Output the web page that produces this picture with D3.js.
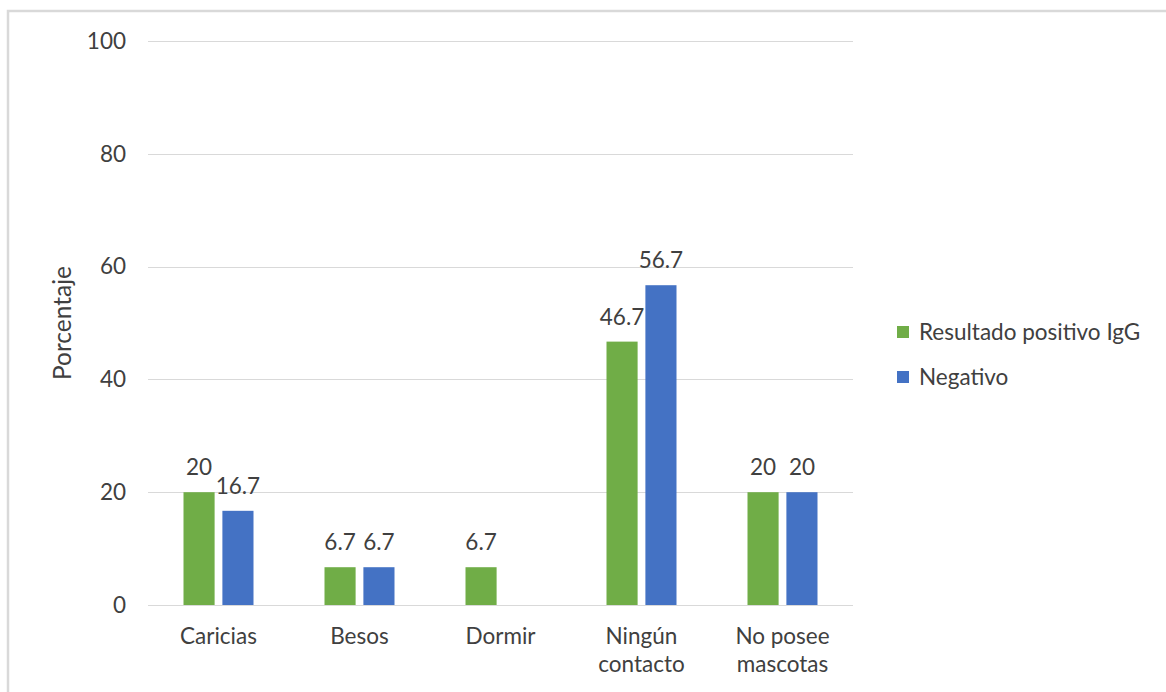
<!DOCTYPE html>
<html>
<head>
<meta charset="utf-8">
<script src="https://cdn.jsdelivr.net/npm/d3@7/dist/d3.min.js"></script>
<style>
  html, body { margin: 0; padding: 0; background: #fff; }
  svg { display: block; }
  text { font-family: Lato, "Open Sans", sans-serif; fill: #404040; }
</style>
</head>
<body>
<svg id="chart" width="1166" height="692"></svg>
<script>
// Exposure categories (multi-line labels split on "\n")
const categories = ["Caricias", "Besos", "Dormir", "Ningún\ncontacto", "No posee\nmascotas"];
const seriesNames = ["Resultado positivo IgG", "Negativo"];
const positivoIgG = [20, 6.7, 6.7, 46.7, 20];
const negativo = [16.7, 6.7, null, 56.7, 20];
const yTicks = [0, 20, 40, 60, 80, 100];
const colors = ["#70ad47", "#4472c4"];

const svg = d3.select("#chart");
const W = 1166, H = 692;
const FS = 22.5;

// Outer chart frame
svg.append("rect")
  .attr("x", 8).attr("y", 11)
  .attr("width", W + 10).attr("height", H + 10)
  .attr("fill", "none").attr("stroke", "#d9d9d9").attr("stroke-width", 2.5);

const plot = { left: 148, right: 853, top: 41, bottom: 605 };

const x = d3.scaleBand().domain(categories).range([plot.left, plot.right]).paddingInner(0).paddingOuter(0);
const xInner = d3.scaleBand().domain(seriesNames).range([35.5, x.bandwidth() - 35.5]).paddingInner(0.2).paddingOuter(0);
const y = d3.scaleLinear().domain([0, 100]).range([plot.bottom, plot.top]);

// Gridlines
svg.append("g").selectAll("line").data(yTicks).join("line")
  .attr("x1", plot.left).attr("x2", plot.right)
  .attr("y1", d => Math.round(y(d)) + 0.5).attr("y2", d => Math.round(y(d)) + 0.5)
  .attr("stroke", "#d9d9d9").attr("stroke-width", 1);

// Y axis labels
const yAxis = d3.axisLeft(y).tickValues(yTicks).tickSize(0).tickPadding(0);
const gy = svg.append("g").attr("transform", `translate(${plot.left - 22},0)`).call(yAxis);
gy.select(".domain").remove();
gy.selectAll("text").attr("font-size", FS).attr("fill", "#404040").attr("font-family", "Lato, sans-serif");

// Y axis title
svg.append("text")
  .attr("transform", `translate(71, ${(plot.top + plot.bottom) / 2}) rotate(-90)`)
  .attr("text-anchor", "middle")
  .attr("font-size", 24.5)
  .text("Porcentaje");

// Bars
const seriesData = [positivoIgG, negativo];
const barData = [];
categories.forEach((c, i) => {
  seriesNames.forEach((s, j) => {
    const v = seriesData[j][i];
    if (v !== null) barData.push({ cat: c, series: s, value: v, color: colors[j] });
  });
});

const gBars = svg.append("g");
gBars.selectAll("rect").data(barData).join("rect")
  .attr("x", d => x(d.cat) + xInner(d.series))
  .attr("y", d => y(d.value))
  .attr("width", xInner.bandwidth())
  .attr("height", d => y(0) - y(d.value))
  .attr("fill", d => d.color);

// Value labels
gBars.selectAll("text").data(barData).join("text")
  .attr("x", d => x(d.cat) + xInner(d.series) + xInner.bandwidth() / 2)
  .attr("y", d => y(d.value) - 17)
  .attr("text-anchor", "middle")
  .attr("font-size", FS)
  .text(d => d.value);

// Category labels
const gx = svg.append("g");
categories.forEach(c => {
  const t = gx.append("text")
    .attr("x", x(c) + x.bandwidth() / 2)
    .attr("y", 644)
    .attr("text-anchor", "middle")
    .attr("font-size", FS);
  c.split("\n").forEach((line, k) => {
    t.append("tspan").attr("x", x(c) + x.bandwidth() / 2).attr("dy", k === 0 ? 0 : 28).text(line);
  });
});

// Legend
const legend = svg.append("g").attr("transform", "translate(897, 326)");
seriesNames.forEach((s, j) => {
  const g = legend.append("g").attr("transform", `translate(0, ${j * 45})`);
  g.append("rect").attr("width", 12).attr("height", 12).attr("fill", colors[j]);
  g.append("text").attr("x", 22).attr("y", 14).attr("font-size", FS).text(s);
});
</script>
</body>
</html>
